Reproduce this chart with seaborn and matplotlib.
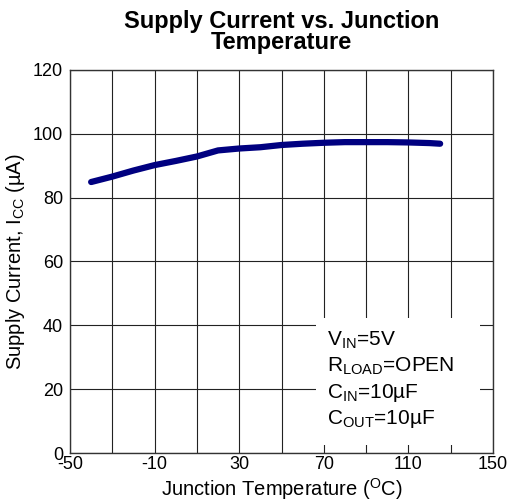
import numpy as np
import pandas as pd
import seaborn as sns
import matplotlib
matplotlib.use('Agg')
import matplotlib.pyplot as plt
from matplotlib.patches import Rectangle

# data
temps = [-40, -30, -20, -10, 0, 10, 20, 30, 40, 50, 60, 70, 80, 90, 100, 110, 120, 125]
icc = [84.9, 86.6, 88.5, 90.2, 91.5, 92.9, 94.8, 95.4, 95.8, 96.5, 96.9, 97.2, 97.4, 97.4, 97.4, 97.3, 97.1, 96.9]
x_ticks = [-50, -30, -10, 10, 30, 50, 70, 90, 110, 130, 150]
x_labels = ['-50', '', '-10', '', '30', '', '70', '', '110', '', '150']
y_ticks = [0, 20, 40, 60, 80, 100, 120]
conditions = [r'V$_{\rm IN}$=5V', r'R$_{\rm LOAD}$=OPEN', r'C$_{\rm IN}$=10µF', r'C$_{\rm OUT}$=10µF']

df = pd.DataFrame({'temp': temps, 'icc': icc})

sns.set_style('white')
plt.rcParams['font.family'] = ['Liberation Sans', 'DejaVu Sans']
plt.rcParams['text.color'] = 'black'
plt.rcParams['axes.labelcolor'] = 'black'
plt.rcParams['mathtext.fontset'] = 'custom'
plt.rcParams['mathtext.rm'] = 'Liberation Sans'
plt.rcParams['mathtext.it'] = 'Liberation Sans:italic'
plt.rcParams['mathtext.bf'] = 'Liberation Sans:bold'

fig = plt.figure(figsize=(5.09, 5.01), dpi=100)
ax = fig.add_axes([0.1375, 0.0958, 0.8311, 0.7645])

sns.lineplot(data=df, x='temp', y='icc', ax=ax, color='#000080', linewidth=4.5,
             solid_capstyle='round', zorder=3)

ax.set_xlim(-50, 150)
ax.set_ylim(0, 120)
ax.set_xticks(x_ticks)
ax.set_xticklabels(x_labels)
ax.set_yticks(y_ticks)
ax.tick_params(length=0, labelsize=13, colors='black')
ax.tick_params(axis='x', pad=2)
ax.tick_params(axis='y', pad=5)
ax.grid(True, color='#222222', linewidth=0.8)
ax.set_axisbelow(True)
for s in ax.spines.values():
    s.set_color('#333333')
    s.set_linewidth(1.0)

# white box behind the test conditions
ax.add_patch(Rectangle((0.582, 0.021), 0.387, 0.331, transform=ax.transAxes,
                       facecolor='white', edgecolor='none', zorder=1.5))
for i, t in enumerate(conditions):
    ax.text(0.608, 0.295 - i * 0.069, t, transform=ax.transAxes, fontsize=15,
            va='center', ha='left', zorder=4)

ax.set_xlabel(r'Junction Temperature ($^{\rm O}$C)', fontsize=14.5)
ax.xaxis.set_label_coords(0.5, -0.061)
ax.set_ylabel(r'Supply Current, I$_{\rm CC}$ (µA)', fontsize=14.5, labelpad=4)
ax.set_title('Supply Current vs. Junction\nTemperature', fontsize=17,
             fontweight='bold', pad=15, linespacing=0.88)

fig.savefig('out.png', dpi=100)
